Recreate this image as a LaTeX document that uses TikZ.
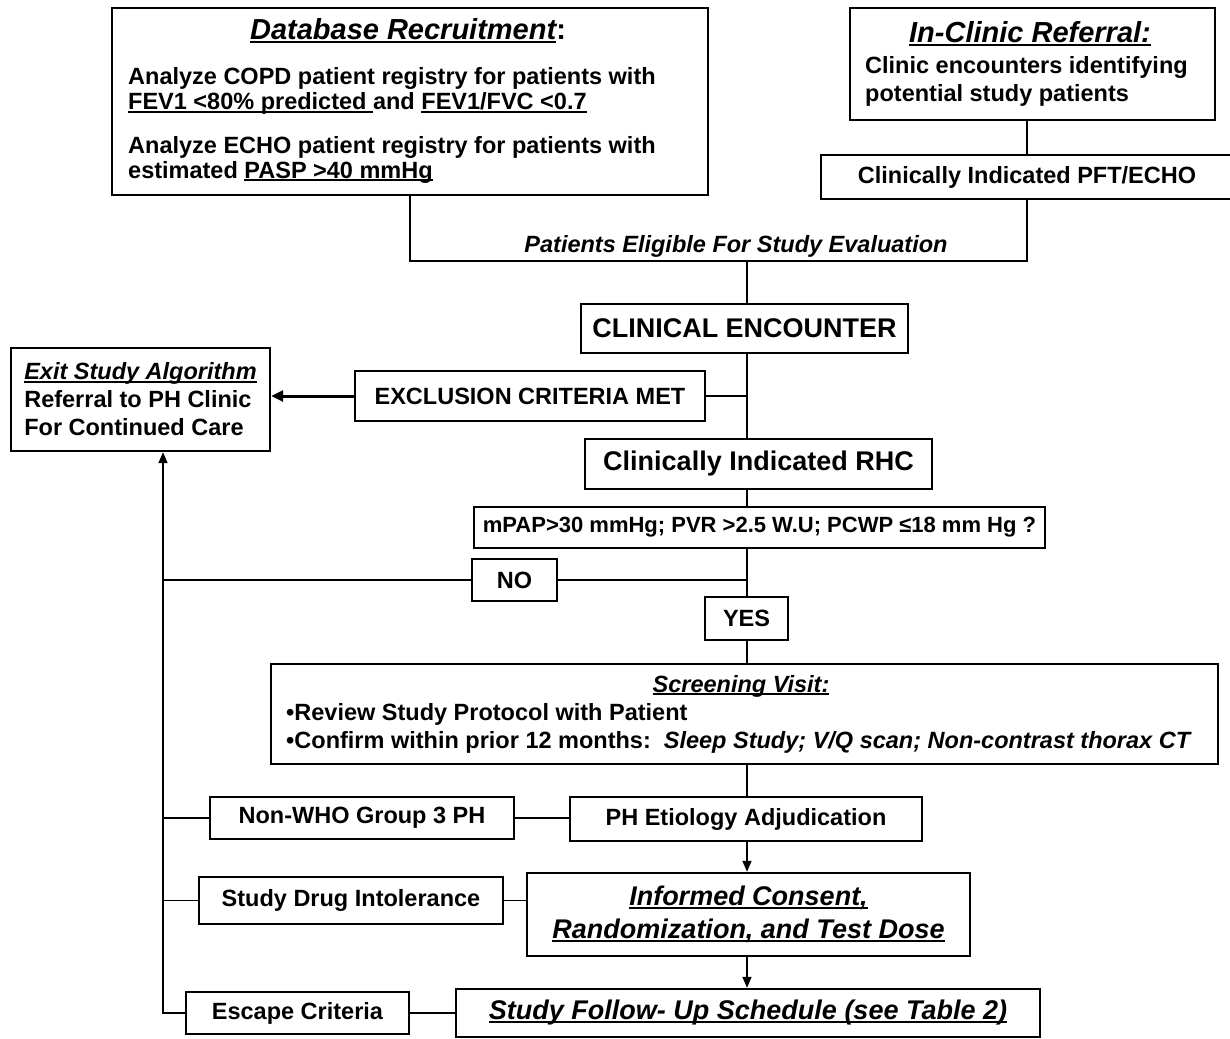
\documentclass[tikz,border=0pt]{standalone}
\usepackage{fontspec}
\setmainfont{Liberation Sans}
\usetikzlibrary{arrows.meta}
\newcommand\ulin[1]{\setbox0\hbox{#1}\rlap{\rule[-3pt]{\wd0}{1.6pt}}\box0}
\begin{document}
\begin{tikzpicture}[x=1pt,y=-1pt,
  box/.style={draw, line width=2.4pt, inner sep=0pt, align=center},
  thinbox/.style={draw, line width=1.8pt, inner sep=0pt, align=center},
  conn/.style={line width=1.6pt},
  arr/.style={conn, -{Triangle[length=11pt,width=9pt]}},
  body/.style={font=\bfseries\fontsize{23.5}{28}\selectfont},
  small/.style={font=\bfseries\fontsize{22}{26}\selectfont},
  big/.style={font=\bfseries\fontsize{27}{33}\selectfont},
  ttl/.style={font=\bfseries\itshape\fontsize{29}{34}\selectfont},
  line/.style={body, anchor=base west, inner sep=0pt},
]
\fill[white] (0,0) rectangle (1230,1038);
\useasboundingbox (0,0) rectangle (1230,1038);

% ---------- top boxes ----------
\node[box, minimum width=596pt, minimum height=187pt] (db) at (410,101.5) {};
\node[ttl, anchor=base, inner sep=0pt] (dbt) at (408,40) {\ulin{Database Recruitment}\upshape:};
\node[line] (db1) at (128,85) {Analyze COPD patient registry for patients with};
\node[line] (db2) at (128,110) {\ulin{FEV1 <80\% predicted\ }and \ulin{FEV1/FVC <0.7}};
\node[line] (db3) at (128,153) {Analyze ECHO patient registry for patients with};
\node[line] (db4) at (128,178) {estimated \ulin{PASP >40 mmHg}};

\node[box, minimum width=365pt, minimum height=112pt] (clinic) at (1032.5,64) {};
\node[ttl, anchor=base, inner sep=0pt] (clt) at (1030,43) {\ulin{In-Clinic Referral:}};
\node[line] (cl1) at (865,74) {Clinic encounters identifying};
\node[line] (cl2) at (865,102) {potential study patients};

\node[box, body, minimum width=412pt, minimum height=44pt] (pft) at (1027,177) {Clinically Indicated PFT/ECHO};

% ---------- main column ----------
\node[box, big, minimum width=327pt, minimum height=49pt] (ce) at (744.5,328.5) {CLINICAL ENCOUNTER};
\node[box, body, minimum width=350pt, minimum height=50pt] (excl) at (530,396) {EXCLUSION CRITERIA MET};
\node[box, body, align=left, minimum width=259pt, minimum height=103pt] (exit) at (140.5,399.5)
  {{\itshape\ulin{Exit Study Algorithm}}\\Referral to PH Clinic\\For Continued Care};
\node[box, big, minimum width=347pt, minimum height=50pt] (rhc) at (758.5,464) {Clinically Indicated RHC};
\node[box, small, minimum width=571pt, minimum height=41pt] (mpap) at (759.5,527.5) {mPAP>30 mmHg; PVR >2.5 W.U; PCWP ≤18 mm Hg ?};
\node[thinbox, body, minimum width=85pt, minimum height=42pt] (no) at (514.5,580) {NO};
\node[thinbox, body, minimum width=83pt, minimum height=43pt] (yes) at (746.5,618.5) {YES};

\node[box, minimum width=947pt, minimum height=100pt] (scr) at (744.5,714) {};
\node[font=\bfseries\itshape\fontsize{23.5}{28}\selectfont, anchor=base, inner sep=0pt] (scrt) at (741,692) {\ulin{Screening Visit:}};
\node[line] (scr1) at (286,720) {•Review Study Protocol with Patient};
\node[line] (scr2) at (286,748) {•Confirm within prior 12 months:\ \ {\itshape Sleep Study; V/Q scan; Non-contrast thorax CT}};

\node[box, body, minimum width=352pt, minimum height=44pt] (ph) at (746,819) {PH Etiology Adjudication};
\node[thinbox, body, minimum width=304pt, minimum height=42pt] (nonwho) at (362,818) {Non-WHO Group 3 PH};
\node[box, big, minimum width=443pt, minimum height=83pt] (inf) at (748.5,914.5)
  {\itshape\ulin{Informed Consent,}\\\itshape\ulin{Randomization, and Test Dose}};
\node[thinbox, body, minimum width=304pt, minimum height=47pt] (drug) at (351,900.5) {Study Drug Intolerance};
\node[box, big, minimum width=584pt, minimum height=48pt] (fu) at (748,1013) {\itshape\ulin{Study Follow- Up Schedule (see Table 2)}};
\node[thinbox, body, minimum width=223pt, minimum height=42pt] (esc) at (297.5,1013) {Escape Criteria};

% ---------- connectors ----------
\coordinate (j1) at (410,261);
\coordinate (j2) at (1027,261);
\coordinate (J) at (747,261);
\coordinate (L) at (163,451);

\draw[conn] (pft.north |- clinic.south) -- (pft.north);
\draw[conn] (db.south) -- (j1) -- (j2) -- (pft.south);
\node[font=\bfseries\itshape\fontsize{23.5}{28}\selectfont, anchor=base, inner sep=0pt] (elig) at (736,252) {Patients Eligible For Study Evaluation};

\draw[conn] (J) -- (J |- ce.north);
\draw[conn] (J |- ce.south) -- (J |- rhc.north);
\draw[conn] (excl.east) -- (excl.east -| J);
\draw[line width=3pt, -{Triangle[length=12pt,width=11pt]}] (excl.west) -- (excl.west -| exit.east);
\draw[conn] (J |- rhc.south) -- (J |- mpap.north);
\draw[conn] (J |- mpap.south) -- (J |- yes.north);
\draw[conn] (no.east) -- (no.east -| J);
\draw[conn] (no.west) -- (no.west -| L);
\draw[conn] (J |- yes.south) -- (J |- scr.north);
\draw[conn] (J |- scr.south) -- (J |- ph.north);
\draw[conn] (nonwho.east) -- (nonwho.east -| ph.west);
\draw[conn] (nonwho.west) -- (nonwho.west -| L);
\draw[arr] (J |- ph.south) -- (J |- inf.north);
\draw[conn] (drug.east) -- (drug.east -| inf.west);
\draw[conn] (drug.west) -- (drug.west -| L);
\draw[arr] (J |- inf.south) -- (J |- fu.north);
\draw[conn] (fu.west) -- (fu.west -| esc.east);
\draw[arr] (esc.west) -- (esc.west -| L) -- (L |- exit.south);
\end{tikzpicture}
\end{document}
